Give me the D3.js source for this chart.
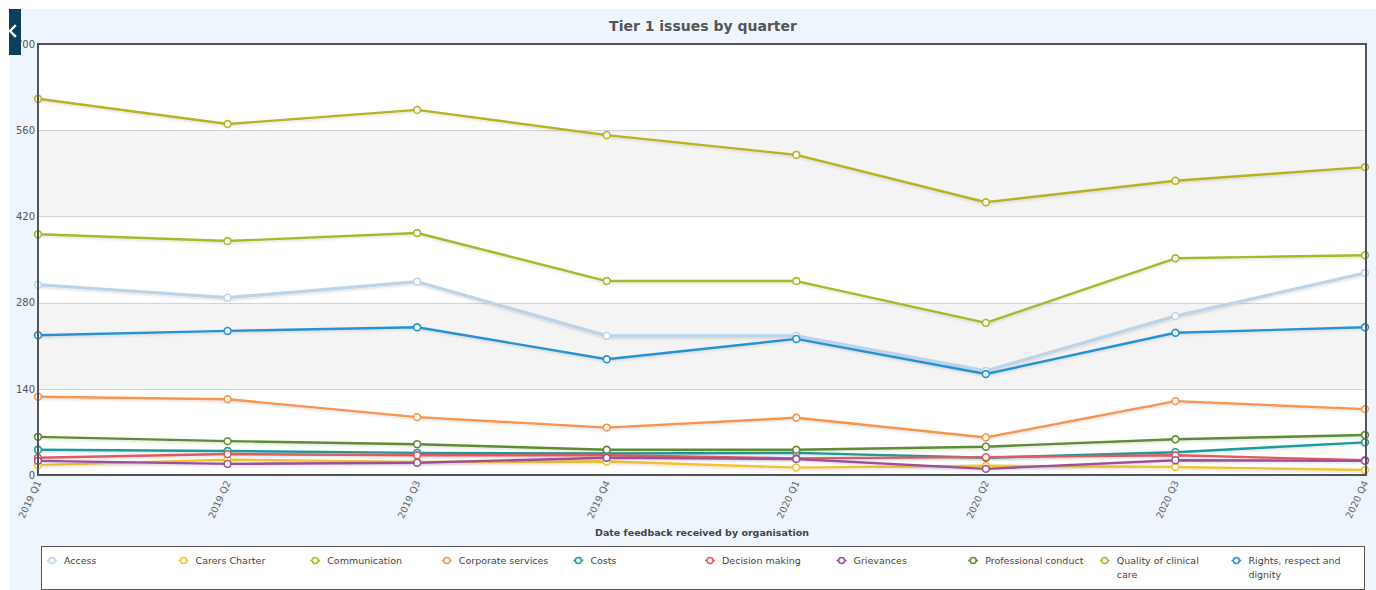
<!DOCTYPE html>
<html>
<head>
<meta charset="utf-8">
<script src="https://cdn.jsdelivr.net/npm/d3@7"></script>
<style>
  html, body { margin: 0; padding: 0; background: #ffffff; }
  svg { display: block; }
</style>
</head>
<body>
<svg id="chart" width="1376" height="590"></svg>
<script>
// Quarters on the x axis
const quarters = ["2019 Q1", "2019 Q2", "2019 Q3", "2019 Q4", "2020 Q1", "2020 Q2", "2020 Q3", "2020 Q4"];

// Issue counts per category, one value per quarter
const access              = [309, 288, 314, 226, 226, 169, 258, 328];
const carersCharter       = [16, 25, 21, 22, 12, 15, 13, 8];
const communication       = [391, 380, 393, 315, 315, 247, 352, 357];
const corporateServices   = [127, 123, 94, 77, 93, 61, 120, 107];
const costs               = [41, 39, 36, 35, 36, 28, 37, 53];
const decisionMaking      = [28, 34, 32, 32, 27, 29, 32, 24];
const grievances          = [23, 18, 20, 28, 26, 10, 24, 23];
const professionalConduct = [62, 55, 50, 41, 41, 46, 58, 65];
const qualityOfCare       = [611, 570, 593, 552, 520, 443, 478, 500];
const rightsRespect       = [227, 234, 240, 188, 221, 164, 231, 240];

const seriesNames = ["Access", "Carers Charter", "Communication", "Corporate services", "Costs",
  "Decision making", "Grievances", "Professional conduct", "Quality of clinical care",
  "Rights, respect and dignity"];
const seriesValues = [access, carersCharter, communication, corporateServices, costs,
  decisionMaking, grievances, professionalConduct, qualityOfCare, rightsRespect];
const seriesColors = ["#bcd4ea", "#f2c230", "#9dbd2c", "#f7944e", "#1b9b9b",
  "#e05a5e", "#9b4f9d", "#5e8c30", "#b8b224", "#2692d4"];

const yTicks = [0, 140, 280, 420, 560, 700];

const svg = d3.select("#chart");
const W = 1376, H = 590;
const plot = { left: 38, right: 1366, top: 44, bottom: 475 };

// Page panel background
svg.append("rect").attr("x", 10).attr("y", 9).attr("width", W - 10).attr("height", H - 9)
  .attr("fill", "#eef5fd");

const x = d3.scalePoint().domain(quarters).range([plot.left, plot.right - 1]);
const y = d3.scaleLinear().domain([0, 700]).range([plot.bottom, plot.top]);

// Plot area with alternating bands
svg.append("rect").attr("x", plot.left).attr("y", plot.top)
  .attr("width", plot.right - plot.left).attr("height", plot.bottom - plot.top)
  .attr("fill", "#ffffff");
for (let i = 0; i < yTicks.length - 1; i++) {
  if (i % 2 === 1) {
    svg.append("rect").attr("x", plot.left).attr("y", y(yTicks[i + 1]))
      .attr("width", plot.right - plot.left).attr("height", y(yTicks[i]) - y(yTicks[i + 1]))
      .attr("fill", "#f4f4f4");
  }
}
// Horizontal grid lines
svg.append("g").selectAll("line").data(yTicks.slice(1, -1)).join("line")
  .attr("x1", plot.left).attr("x2", plot.right)
  .attr("y1", d => Math.round(y(d)) + 0.5).attr("y2", d => Math.round(y(d)) + 0.5)
  .attr("stroke", "#d4d4d4").attr("stroke-width", 1);

// Y axis labels
const yAxis = d3.axisLeft(y).tickValues(yTicks).tickSize(0).tickPadding(3);
const gy = svg.append("g").attr("transform", `translate(${plot.left},0)`).call(yAxis);
gy.select(".domain").remove();
gy.selectAll("text").attr("font-family", "DejaVu Sans, Verdana, sans-serif")
  .attr("font-size", 10).attr("fill", "#555");

// X axis labels, rotated
const xAxis = d3.axisBottom(x).tickSize(0).tickPadding(0);
const gx = svg.append("g").attr("transform", `translate(0,${plot.bottom})`).call(xAxis);
gx.select(".domain").remove();
gx.selectAll("text")
  .attr("font-family", "DejaVu Sans, Verdana, sans-serif").attr("font-size", 9.5)
  .attr("fill", "#666").attr("text-anchor", "end")
  .attr("dy", "0.35em")
  .attr("transform", "translate(0,6) rotate(-65)");

// Shadow under the lines
const defs = svg.append("defs");
const f = defs.append("filter").attr("id", "lineShadow")
  .attr("x", "-5%").attr("y", "-20%").attr("width", "110%").attr("height", "140%");
f.append("feDropShadow").attr("dx", 0).attr("dy", 1.5).attr("stdDeviation", 1)
  .attr("flood-color", "#000").attr("flood-opacity", 0.12);

const line = d3.line().x((d, i) => x(quarters[i])).y(d => y(d));

const seriesG = svg.append("g");
seriesValues.forEach((vals, s) => {
  const g = seriesG.append("g");
  g.append("path").datum(vals).attr("d", line)
    .attr("fill", "none").attr("stroke", seriesColors[s])
    .attr("stroke-width", s === 0 ? 3.2 : 2.4)
    .attr("stroke-linejoin", "round")
    .attr("filter", "url(#lineShadow)");
  g.selectAll("circle").data(vals).join("circle")
    .attr("cx", (d, i) => x(quarters[i])).attr("cy", d => y(d)).attr("r", 3.4)
    .attr("fill", "#ffffff").attr("stroke", seriesColors[s]).attr("stroke-width", 1.6);
});

// Plot frame
svg.append("line").attr("x1", plot.left).attr("x2", plot.right + 1)
  .attr("y1", plot.top).attr("y2", plot.top).attr("stroke", "#555").attr("stroke-width", 2);
svg.append("line").attr("x1", plot.left).attr("x2", plot.right + 1)
  .attr("y1", plot.bottom).attr("y2", plot.bottom).attr("stroke", "#555").attr("stroke-width", 2);
svg.append("line").attr("x1", plot.left).attr("x2", plot.left)
  .attr("y1", plot.top - 1).attr("y2", plot.bottom + 1).attr("stroke", "#555").attr("stroke-width", 2);
svg.append("line").attr("x1", plot.right).attr("x2", plot.right)
  .attr("y1", plot.top - 1).attr("y2", plot.bottom + 1).attr("stroke", "#555").attr("stroke-width", 2);

// Title
svg.append("text").attr("x", 703).attr("y", 31).attr("text-anchor", "middle")
  .attr("font-family", "DejaVu Sans, Verdana, sans-serif").attr("font-weight", "bold")
  .attr("font-size", 14).attr("fill", "#555").text("Tier 1 issues by quarter");

// X axis title
svg.append("text").attr("x", 702).attr("y", 536).attr("text-anchor", "middle")
  .attr("font-family", "DejaVu Sans, Verdana, sans-serif").attr("font-weight", "bold")
  .attr("font-size", 9.5).attr("fill", "#444").text("Date feedback received by organisation");

// Legend
const lg = { x: 41, y: 546, w: 1323, h: 43 };
svg.append("rect").attr("x", lg.x + 0.5).attr("y", lg.y + 0.5).attr("width", lg.w).attr("height", lg.h)
  .attr("fill", "#ffffff").attr("stroke", "#555").attr("stroke-width", 1);
const itemW = 131.6;
const wrapLines = {
  "Quality of clinical care": ["Quality of clinical", "care"],
  "Rights, respect and dignity": ["Rights, respect and", "dignity"]
};
seriesNames.forEach((name, i) => {
  const cx = lg.x + 11 + i * itemW;
  const g = svg.append("g");
  g.append("line").attr("x1", cx - 5).attr("x2", cx + 5).attr("y1", 560.5).attr("y2", 560.5)
    .attr("stroke", seriesColors[i]).attr("stroke-width", 1.5);
  g.append("circle").attr("cx", cx).attr("cy", 560.5).attr("r", 3)
    .attr("fill", "#fff").attr("stroke", seriesColors[i]).attr("stroke-width", 1.5);
  const linesTxt = wrapLines[name] || [name];
  const t = g.append("text").attr("font-family", "DejaVu Sans, Verdana, sans-serif")
    .attr("font-size", 9.5).attr("fill", "#444");
  linesTxt.forEach((l, k) => {
    t.append("tspan").attr("x", cx + 12).attr("y", 564 + k * 14).text(l);
  });
});

// Collapse tab in the top-left corner
svg.append("rect").attr("x", 9).attr("y", 9).attr("width", 12).attr("height", 46).attr("fill", "#0d3e5e");
svg.append("path").attr("d", "M15,26 L10,31 L15,36")
  .attr("fill", "none").attr("stroke", "#ffffff").attr("stroke-width", 2.4)
  .attr("stroke-linecap", "square");
</script>
</body>
</html>
